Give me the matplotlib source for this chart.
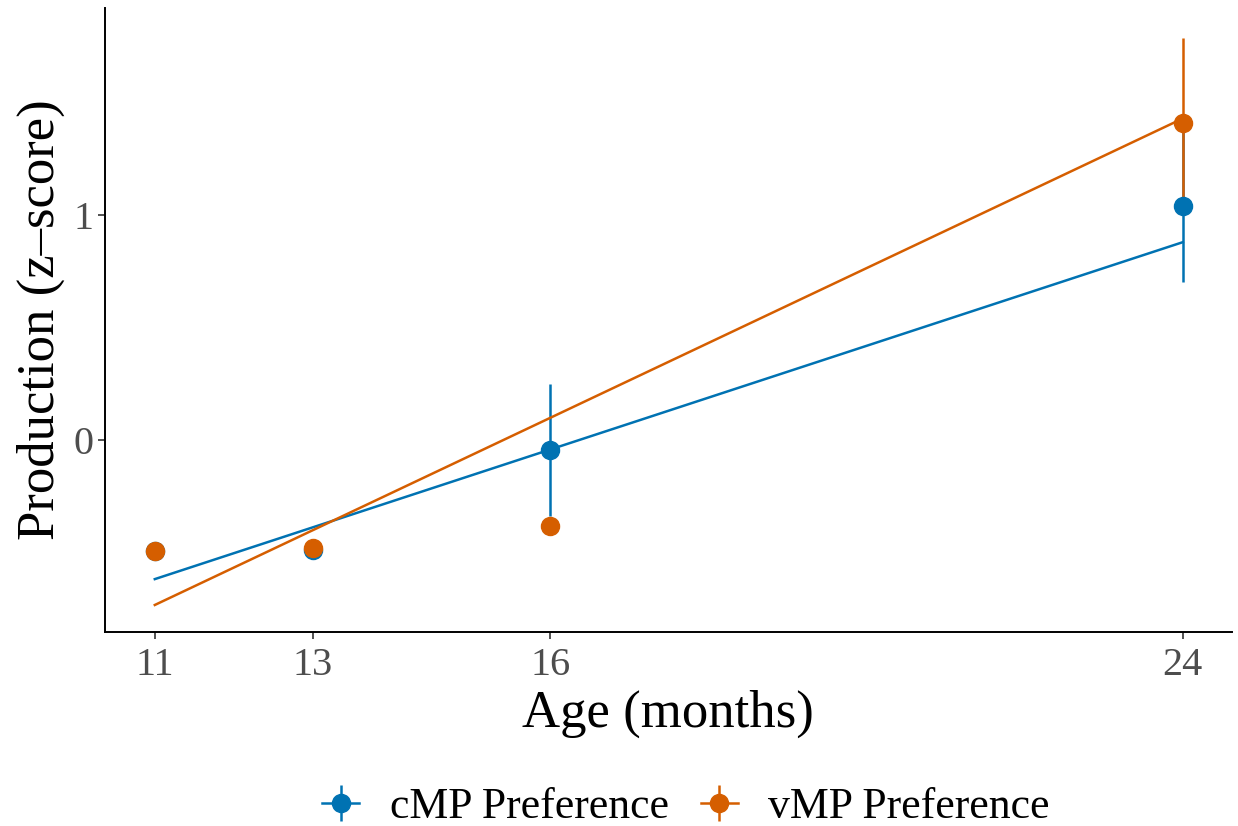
import numpy as np
import matplotlib
matplotlib.use('Agg')
import matplotlib.pyplot as plt
from matplotlib.lines import Line2D
from matplotlib.legend_handler import HandlerTuple

plt.rcParams['font.family'] = ['Liberation Serif', 'DejaVu Serif']

ages = [11, 13, 16, 24]
groups = ['cMP Preference', 'vMP Preference']
colors = ['#0072B2', '#D55E00']
means = {'cMP Preference': [-0.493, -0.487, -0.044, 1.04],
         'vMP Preference': [-0.493, -0.478, -0.382, 1.409]}
errs = {'cMP Preference': [0.0, 0.0, 0.295, 0.335],
        'vMP Preference': [0.0, 0.0, 0.02, 0.38]}
# fitted line ends (lm over age) at 11 and 24
fit_x = [11, 24]
fits = {'cMP Preference': [-0.618, 0.88],
        'vMP Preference': [-0.733, 1.43]}

fig = plt.figure(figsize=(12.38, 8.26), dpi=100)
ax = fig.add_axes([0.0848, 0.2349, 0.9102, 0.7551])

for g, c in zip(groups, colors):
    ax.errorbar(ages, means[g], yerr=errs[g], fmt='o', color=c, ms=13,
                elinewidth=1.8, capsize=0, zorder=3)
for g, c in zip(groups, colors):
    ax.plot(fit_x, fits[g], color=c, lw=1.8, zorder=4)

ax.set_xlim(10.37, 24.62)
ax.set_ylim(-0.853, 1.92)
ax.set_xticks(ages)
ax.set_yticks([0, 1])
ax.tick_params(axis='both', labelsize=29, colors='#333333', labelcolor='#4D4D4D',
               length=5, width=1.2)
ax.tick_params(axis='x', pad=6)
for s in ['top', 'right']:
    ax.spines[s].set_visible(False)
for s in ['left', 'bottom']:
    ax.spines[s].set_linewidth(1.4)
ax.set_xlabel('Age (months)', fontsize=38, labelpad=4)
ax.set_ylabel('Production (z\u2013score)', fontsize=38, labelpad=6)

handles = []
for c in colors:
    h_line = Line2D([], [], color=c, lw=1.8)
    h_bar = Line2D([], [], color=c, marker='|', ms=26, mew=1.8, ls='none')
    h_pt = Line2D([], [], color=c, marker='o', ms=13, ls='none')
    handles.append((h_line, h_bar, h_pt))
fig.legend(handles, groups, handler_map={tuple: HandlerTuple(ndivide=1)},
           loc='center', bbox_to_anchor=(0.554, 0.023), ncol=2, frameon=False,
           fontsize=31.5, handlelength=0.85, columnspacing=0.73, handletextpad=0.69)

fig.savefig('out.png', dpi=100)
